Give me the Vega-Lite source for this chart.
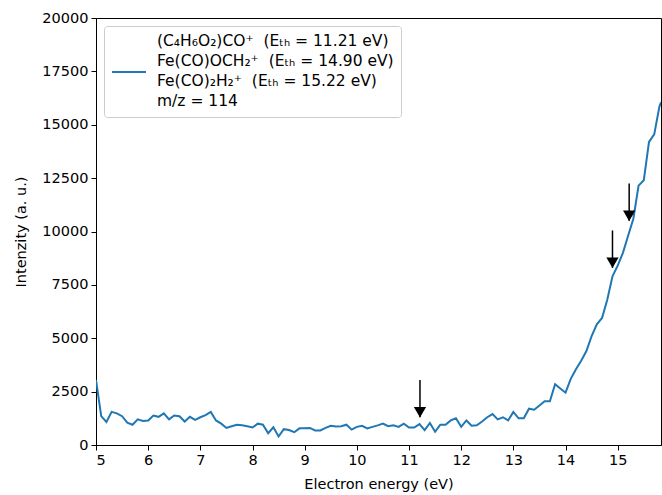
{
  "$schema": "https://vega.github.io/schema/vega-lite/v6.json",
  "width": 565,
  "height": 427,
  "autosize": {"type": "none"},
  "padding": {"left": 96, "top": 18, "right": 1, "bottom": 50},
  "background": "white",
  "config": {
    "font": "DejaVu Sans",
    "view": {"stroke": "black", "strokeWidth": 1},
    "style": {"guide-label": {"lineHeight": 20}},
    "axis": {
      "grid": false,
      "domainColor": "black",
      "tickColor": "black",
      "labelColor": "black",
      "titleColor": "black",
      "labelFontSize": 14.5,
      "titleFontSize": 14.5,
      "titleFontWeight": "normal",
      "tickSize": 5,
      "labelPadding": 3,
      "labelFont": "DejaVu Sans",
      "titleFont": "DejaVu Sans"
    }
  },
  "datasets": {
    "arrows": [
      {"x": 11.21, "top": 3050, "tip": 1300},
      {"x": 14.90, "top": 10050, "tip": 8300},
      {"x": 15.22, "top": 12250, "tip": 10500}
    ]
  },
  "data": {
    "values": [
      {"E": 5.0, "I": 3050}, {"E": 5.1, "I": 1350}, {"E": 5.2, "I": 1080}, {"E": 5.3, "I": 1550},
      {"E": 5.4, "I": 1480}, {"E": 5.5, "I": 1350}, {"E": 5.6, "I": 1050}, {"E": 5.7, "I": 950},
      {"E": 5.8, "I": 1200}, {"E": 5.9, "I": 1130}, {"E": 6.0, "I": 1150}, {"E": 6.1, "I": 1380},
      {"E": 6.2, "I": 1320}, {"E": 6.3, "I": 1480}, {"E": 6.4, "I": 1200}, {"E": 6.5, "I": 1380},
      {"E": 6.6, "I": 1350}, {"E": 6.7, "I": 1100}, {"E": 6.8, "I": 1320}, {"E": 6.9, "I": 1180},
      {"E": 7.0, "I": 1300}, {"E": 7.1, "I": 1400}, {"E": 7.2, "I": 1550}, {"E": 7.3, "I": 1150},
      {"E": 7.4, "I": 1000}, {"E": 7.5, "I": 800}, {"E": 7.6, "I": 880}, {"E": 7.7, "I": 950},
      {"E": 7.8, "I": 920}, {"E": 7.9, "I": 880}, {"E": 8.0, "I": 820}, {"E": 8.1, "I": 1000},
      {"E": 8.2, "I": 950}, {"E": 8.3, "I": 550}, {"E": 8.4, "I": 830}, {"E": 8.5, "I": 400},
      {"E": 8.6, "I": 740}, {"E": 8.7, "I": 700}, {"E": 8.8, "I": 600}, {"E": 8.9, "I": 780},
      {"E": 9.0, "I": 780}, {"E": 9.1, "I": 800}, {"E": 9.2, "I": 680}, {"E": 9.3, "I": 680},
      {"E": 9.4, "I": 800}, {"E": 9.5, "I": 900}, {"E": 9.6, "I": 870}, {"E": 9.7, "I": 880},
      {"E": 9.8, "I": 950}, {"E": 9.9, "I": 720}, {"E": 10.0, "I": 850}, {"E": 10.1, "I": 900},
      {"E": 10.2, "I": 780}, {"E": 10.3, "I": 850}, {"E": 10.4, "I": 920}, {"E": 10.5, "I": 1000},
      {"E": 10.6, "I": 880}, {"E": 10.7, "I": 920}, {"E": 10.8, "I": 850}, {"E": 10.9, "I": 1000},
      {"E": 11.0, "I": 820}, {"E": 11.1, "I": 820}, {"E": 11.2, "I": 980}, {"E": 11.3, "I": 700},
      {"E": 11.4, "I": 1030}, {"E": 11.5, "I": 620}, {"E": 11.6, "I": 950}, {"E": 11.7, "I": 950},
      {"E": 11.8, "I": 1150}, {"E": 11.9, "I": 1250}, {"E": 12.0, "I": 850}, {"E": 12.1, "I": 1150},
      {"E": 12.2, "I": 900}, {"E": 12.3, "I": 920}, {"E": 12.4, "I": 1100}, {"E": 12.5, "I": 1300},
      {"E": 12.6, "I": 1450}, {"E": 12.7, "I": 1200}, {"E": 12.8, "I": 1300}, {"E": 12.9, "I": 1150},
      {"E": 13.0, "I": 1550}, {"E": 13.1, "I": 1250}, {"E": 13.2, "I": 1250}, {"E": 13.3, "I": 1700},
      {"E": 13.4, "I": 1650}, {"E": 13.5, "I": 1850}, {"E": 13.6, "I": 2050}, {"E": 13.7, "I": 2050},
      {"E": 13.8, "I": 2850}, {"E": 13.9, "I": 2650}, {"E": 14.0, "I": 2450}, {"E": 14.1, "I": 3100},
      {"E": 14.2, "I": 3550}, {"E": 14.3, "I": 3950}, {"E": 14.4, "I": 4400}, {"E": 14.5, "I": 5100},
      {"E": 14.6, "I": 5650}, {"E": 14.7, "I": 5950}, {"E": 14.8, "I": 6800}, {"E": 14.9, "I": 7900},
      {"E": 15.0, "I": 8400}, {"E": 15.1, "I": 9000}, {"E": 15.2, "I": 9800}, {"E": 15.3, "I": 10600},
      {"E": 15.4, "I": 12150}, {"E": 15.5, "I": 12400}, {"E": 15.6, "I": 14200}, {"E": 15.7, "I": 14550},
      {"E": 15.8, "I": 15850}, {"E": 15.83, "I": 16050}
    ]
  },
  "layer": [
    {
      "mark": {"type": "line", "strokeWidth": 2, "clip": true},
      "encoding": {
        "x": {
          "field": "E", "type": "quantitative",
          "scale": {"domain": [5, 15.83], "nice": false, "zero": false},
          "axis": {"values": [5, 6, 7, 8, 9, 10, 11, 12, 13, 14, 15], "title": "Electron energy (eV)", "titlePadding": 11}
        },
        "y": {
          "field": "I", "type": "quantitative",
          "scale": {"domain": [0, 20000], "nice": false},
          "axis": {"values": [0, 2500, 5000, 7500, 10000, 12500, 15000, 17500, 20000], "format": "d", "title": "Intenzity (a. u.)", "titlePadding": 13}
        },
        "color": {
          "datum": "(C₄H₆O₂)CO⁺ \u00a0(Eₜₕ = 11.21 eV)|Fe(CO)OCH₂⁺ \u00a0(Eₜₕ = 14.90 eV)|Fe(CO)₂H₂⁺ \u00a0(Eₜₕ = 15.22 eV)|m/z = 114",
          "type": "nominal",
          "scale": {"range": ["#1f77b4"]},
          "legend": {
            "title": null,
            "orient": "top-left",
            "offset": 8,
            "labelExpr": "split(datum.label, '|')",
            "labelFontSize": 15.5,
            "labelFont": "DejaVu Sans",
            "labelColor": "black",
            "labelLimit": 400,
            "symbolType": "stroke",
            "symbolStrokeWidth": 2,
            "symbolSize": 1150,
            "strokeColor": "#cccccc",
            "fillColor": "rgba(255,255,255,0.8)",
            "cornerRadius": 3,
            "padding": 7,
            "labelOffset": 10,
            "encode": {
              "symbols": {"update": {"y": {"value": 39}}},
              "labels": {"update": {"y": {"value": 8}}}
            }
          }
        }
      }
    },
    {
      "data": {"name": "arrows"},
      "mark": {"type": "rule", "color": "black", "strokeWidth": 1.5},
      "encoding": {
        "x": {"field": "x", "type": "quantitative"},
        "y": {"field": "top", "type": "quantitative"},
        "y2": {"field": "tip"}
      }
    },
    {
      "data": {"name": "arrows"},
      "mark": {"type": "point", "shape": "triangle-down", "filled": true, "color": "black", "opacity": 1, "size": 150, "yOffset": -5},
      "encoding": {
        "x": {"field": "x", "type": "quantitative"},
        "y": {"field": "tip", "type": "quantitative"}
      }
    }
  ]
}
